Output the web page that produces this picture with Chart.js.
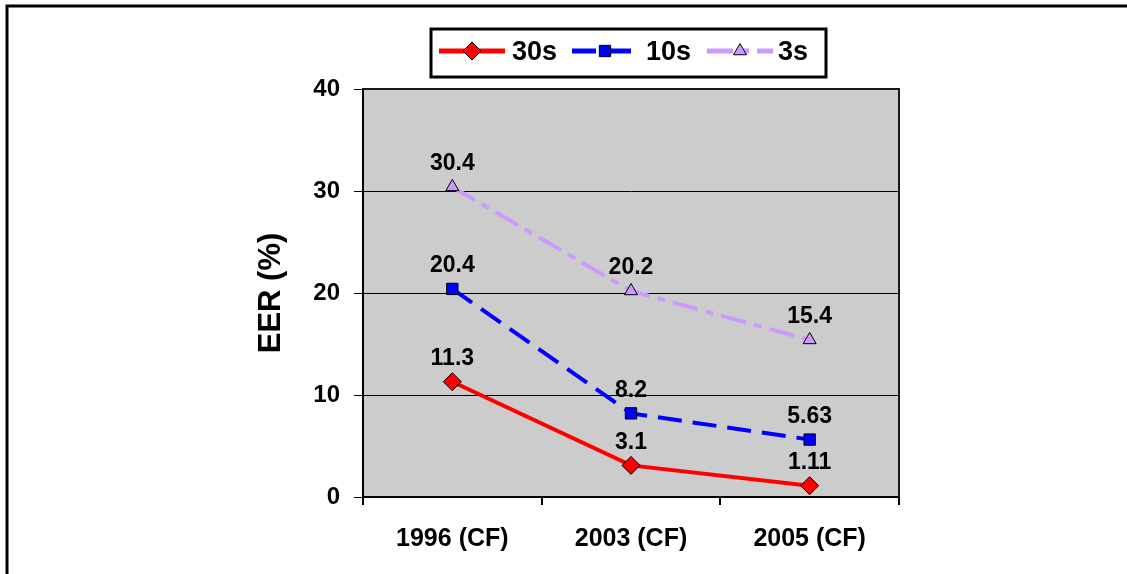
<!DOCTYPE html>
<html>
<head>
<meta charset="utf-8">
<title>EER</title>
<script src="https://cdn.jsdelivr.net/npm/chart.js@4.4.1/dist/chart.umd.min.js"></script>
<style>
  html, body { margin: 0; padding: 0; background: #fff; }
  #wrap { width: 1127px; height: 574px; }
</style>
</head>
<body>
<div id="wrap"><canvas id="eerChart" width="1127" height="574"></canvas></div>
<script>
const years = ["1996 (CF)", "2003 (CF)", "2005 (CF)"];
const eer30s = [11.3, 3.1, 1.11];
const eer10s = [20.4, 8.2, 5.63];
const eer3s = [30.4, 20.2, 15.4];
const yTicks = [0, 10, 20, 30, 40];

const FONT = "'Liberation Sans', Arial, sans-serif";

// gray plot area + outer frame
const frame = {
  id: "frame",
  beforeDraw(chart) {
    const { ctx, chartArea: a } = chart;
    ctx.save();
    ctx.fillStyle = "#cccccc";
    ctx.fillRect(a.left, a.top, a.right - a.left, a.bottom - a.top);
    ctx.strokeStyle = "#000";
    ctx.lineWidth = 3;
    ctx.beginPath();
    ctx.moveTo(7, 574);
    ctx.lineTo(7, 6);
    ctx.lineTo(1127, 6);
    ctx.stroke();
    ctx.restore();
  },
  beforeDatasetsDraw(chart) {
    const { ctx, chartArea: a } = chart;
    ctx.save();
    ctx.strokeStyle = "#1a1a1a";
    ctx.lineWidth = 2;
    ctx.beginPath();
    ctx.moveTo(a.left, a.top);
    ctx.lineTo(a.right, a.top);
    ctx.lineTo(a.right, a.bottom);
    ctx.stroke();
    ctx.restore();
  }
};

// value labels above every point
const valueLabels = {
  id: "valueLabels",
  afterDatasetsDraw(chart) {
    const { ctx } = chart;
    ctx.save();
    ctx.font = "bold 23px " + FONT;
    ctx.fillStyle = "#000";
    ctx.textAlign = "center";
    ctx.textBaseline = "middle";
    chart.data.datasets.forEach((ds, i) => {
      chart.getDatasetMeta(i).data.forEach((pt, j) => {
        ctx.fillText(String(ds.data[j]), pt.x, pt.y - 23);
      });
    });
    ctx.restore();
  }
};

// boxed legend with line samples
const boxLegend = {
  id: "boxLegend",
  afterDraw(chart) {
    const { ctx } = chart;
    const starts = [439, 572, 707];
    const textX = [512, 646, 778];
    const cy = 51;
    ctx.save();
    ctx.strokeStyle = "#000";
    ctx.lineWidth = 3;
    ctx.strokeRect(431, 29, 395, 48);
    chart.data.datasets.forEach((ds, i) => {
      const x0 = starts[i];
      ctx.save();
      ctx.strokeStyle = ds.borderColor;
      ctx.lineWidth = 5;
      ctx.setLineDash(ds.borderDash || []);
      ctx.beginPath();
      ctx.moveTo(x0, cy);
      ctx.lineTo(x0 + 66, cy);
      ctx.stroke();
      ctx.restore();
      ctx.fillStyle = ds.pointBackgroundColor;
      ctx.strokeStyle = ds.pointBorderColor;
      ctx.lineWidth = ds.pointBorderWidth;
      Chart.helpers.drawPoint(ctx, {
        pointStyle: ds.pointStyle,
        radius: ds.pointRadius,
        rotation: 0,
        borderWidth: ds.pointBorderWidth
      }, x0 + 33, cy);
      ctx.fillStyle = "#000";
      ctx.font = "bold 27px " + FONT;
      ctx.textBaseline = "middle";
      ctx.textAlign = "left";
      ctx.fillText(ds.label, textX[i], cy + 2);
    });
    ctx.restore();
  }
};

new Chart(document.getElementById("eerChart"), {
  type: "line",
  data: {
    labels: years,
    datasets: [
      {
        label: "30s",
        data: eer30s,
        borderColor: "#ff0000",
        borderWidth: 4,
        pointStyle: "rectRot",
        pointRadius: 9,
        pointBackgroundColor: "#ff0000",
        pointBorderColor: "#000",
        pointBorderWidth: 1
      },
      {
        label: "10s",
        data: eer10s,
        borderColor: "#0000ff",
        borderWidth: 4,
        borderDash: [24, 11],
        pointStyle: "rect",
        pointRadius: 8,
        pointBackgroundColor: "#0000ff",
        pointBorderColor: "#000",
        pointBorderWidth: 1
      },
      {
        label: "3s",
        data: eer3s,
        borderColor: "#cc99ff",
        borderWidth: 4,
        borderDash: [26, 8, 8, 8],
        pointStyle: "triangle",
        pointRadius: 7.5,
        pointBackgroundColor: "#cc99ff",
        pointBorderColor: "#000",
        pointBorderWidth: 1
      }
    ]
  },
  options: {
    responsive: false,
    animation: false,
    layout: { padding: { top: 89, right: 228, bottom: 0, left: 0 } },
    plugins: {
      legend: { display: false },
      tooltip: { enabled: false }
    },
    scales: {
      x: {
        offset: true,
        afterFit: (s) => { s.height = 77; },
        grid: {
          offset: true,
          drawOnChartArea: false,
          tickLength: 8,
          lineWidth: 2,
          tickColor: (c) => (c.index === 3 ? "rgba(0,0,0,0)" : "#000")
        },
        border: { color: "#000", width: 2 },
        ticks: {
          color: "#000",
          padding: 19,
          font: { family: FONT, size: 25, weight: "bold" }
        }
      },
      y: {
        min: 0,
        max: 40,
        afterFit: (s) => { s.width = 363; },
        afterBuildTicks: (s) => { s.ticks = yTicks.map((v) => ({ value: v })); },
        grid: {
          color: "#000",
          lineWidth: 1,
          tickLength: 9,
          tickColor: "#000"
        },
        border: { color: "#000", width: 2 },
        ticks: {
          color: "#000",
          padding: 14,
          font: { family: FONT, size: 24, weight: "bold" }
        },
        title: {
          display: true,
          text: "EER (%)",
          color: "#000",
          padding: { top: 253, bottom: 0 },
          font: { family: FONT, size: 31, weight: "bold" }
        }
      }
    }
  },
  plugins: [frame, valueLabels, boxLegend]
});
</script>
</body>
</html>
